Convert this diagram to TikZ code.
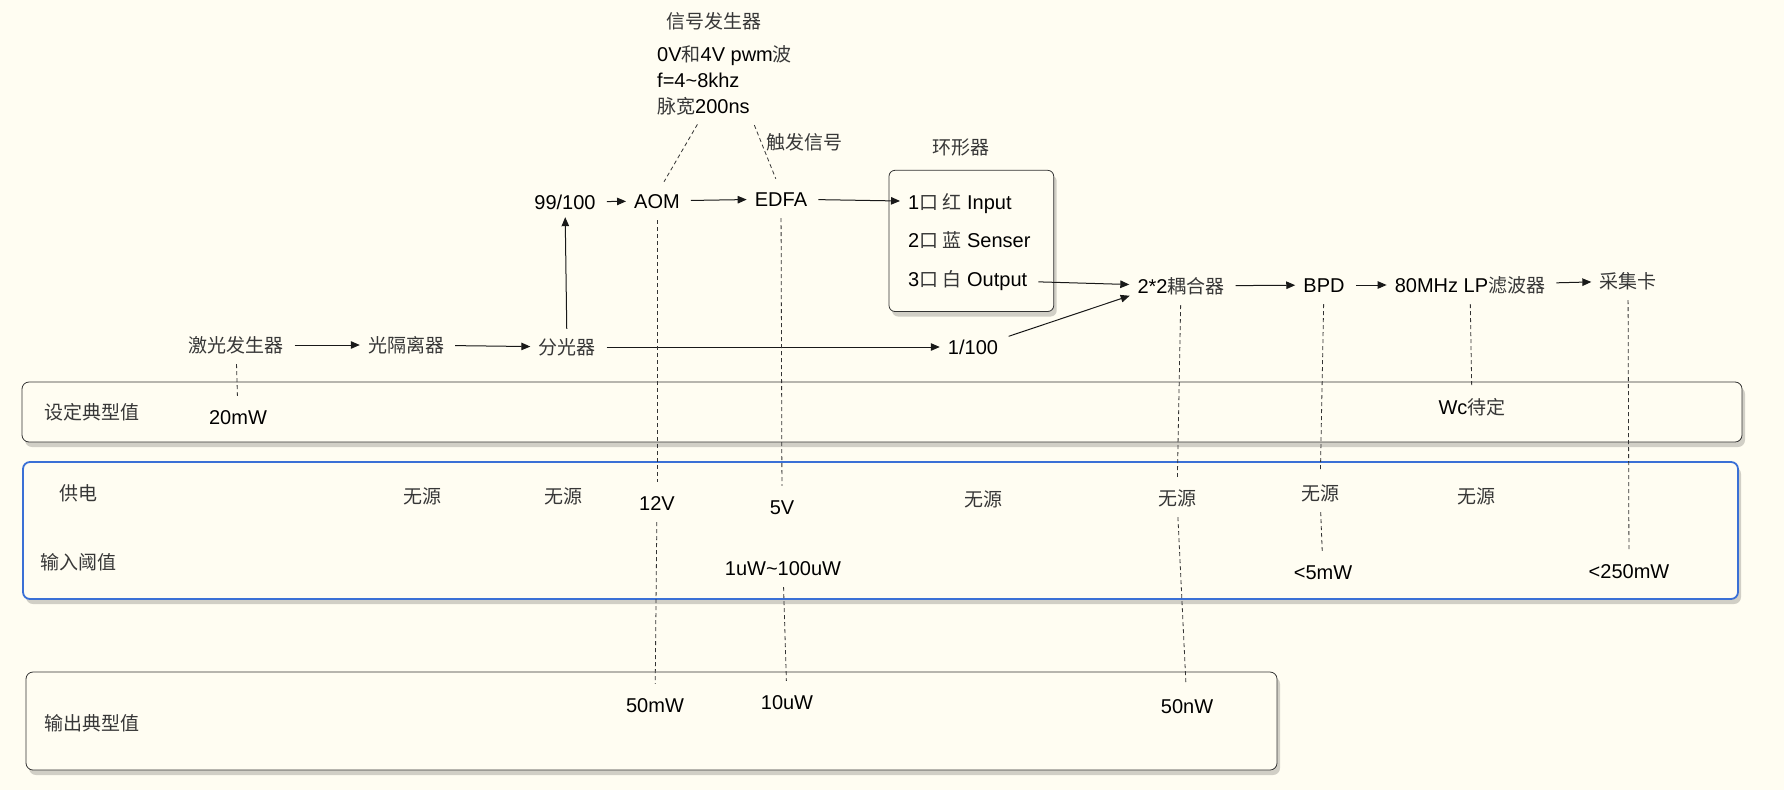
\documentclass[tikz,border=0pt]{standalone}
\usepackage{fontspec}
\setmainfont{Liberation Sans}
\newfontfamily\zhfont[Scale=0.95]{Noto Sans CJK SC}
\usepackage{tikz}
\usetikzlibrary{arrows.meta,positioning,fit,backgrounds,shadows}
\usepackage{xcolor}
\definecolor{bgcream}{RGB}{255,253,242}
\definecolor{zhgray}{RGB}{55,55,55}
\definecolor{panelblue}{RGB}{58,112,214}
\newcommand{\zh}[1]{{\zhfont\color{zhgray}#1}}

\begin{document}
\begin{tikzpicture}[x=1pt, y=-1pt, >={Triangle[length=9pt,width=7.5pt]},
  node distance=24.5pt and 0pt,
  dev/.style={inner sep=0pt, text height=14pt, text depth=0pt, font=\fontsize{20pt}{24pt}\selectfont},
  zhl/.style={dev, font=\fontsize{20pt}{24pt}\selectfont\zhfont, text=zhgray},
  arr/.style={->, line width=1pt, draw=black!90, shorten <=11pt, shorten >=8pt},
  dl/.style={dash pattern=on 4pt off 3pt, line width=0.8pt, draw=black!80, shorten <=12pt, shorten >=14pt},
  shd/.style={drop shadow={shadow xshift=3pt, shadow yshift=-5pt, opacity=0.18, fill=black}},
  panel/.style={rounded corners=7pt, fill=bgcream, line width=0.8pt, draw=black!80, shd}]
\useasboundingbox (0,0) rectangle (1784,790);
\begin{scope}[on background layer]
  \fill[bgcream] (0,0) rectangle (1784,790);
\end{scope}

% value panels
\path[panel] (22,382) rectangle (1742,442);
\path[panel, draw=panelblue, line width=1.8pt] (23,462) rectangle (1738,599);
\path[panel] (26,672) rectangle (1277,770);

% optical chain
\node[zhl] (laser) at (236,345) {激光发生器};
\node[zhl] (iso) at (406,345) {光隔离器};
\node[zhl] (split) at (567,347) {分光器};
\node[dev] (one) at (973,347) {1/100};
\node[dev] (r99) at (565,202) {99/100};
\node[dev] (aom) at (657,201) {AOM};
\node[dev] (edfa) at (781,199) {EDFA};
\node[dev, anchor=west] (p1) at (908,202) {1\zh{口 红} Input};
\node[dev, below right=of p1.south west] (p2) {2\zh{口 蓝} Senser};
\node[dev, below right=of p2.south west] (p3) {3\zh{口 白} Output};
\begin{scope}[on background layer]
  \node[fit=(p1)(p2)(p3), inner xsep=21pt, inner ysep=24.5pt, xshift=2pt, rounded corners=6pt,
    fill=bgcream, draw=black!80, line width=0.8pt, shd] (circ) {};
\end{scope}
\node[zhl] (circlbl) at (961,147) {环形器};
\node[dev] (coupler) at (1181,286) {2*2\zh{耦合器}};
\node[dev] (bpd) at (1324,285) {BPD};
\node[dev] (lp) at (1470,285) {80MHz LP\zh{滤波器}};
\node[zhl] (daq) at (1628,281) {采集卡};

% signal generator
\node[zhl] (siggen) at (714,21) {信号发生器};
\node[dev, anchor=west] (pwm1) at (657,54) {0V\zh{和}4V pwm\zh{波}};
\node[dev, below right=12pt and 0pt of pwm1.south west] (pwm2) {f=4\textasciitilde8khz};
\node[dev, below right=12pt and 0pt of pwm2.south west] (pwm3) {\zh{脉宽}200ns};
\node[zhl] (trig) at (804,142) {触发信号};

% panel texts
\node[zhl] (setlbl) at (92,412) {设定典型值};
\node[dev] (p20) at (238,417) {20mW};
\node[dev] (wc) at (1472,407) {Wc\zh{待定}};
\node[zhl] (powlbl) at (78,493) {供电};
\node[zhl] (inlbl) at (78,562) {输入阈值};
\node[zhl] (outlbl) at (92,723) {输出典型值};
\node[zhl] (np1) at (422,496) {无源};
\node[zhl] (np2) at (563,496) {无源};
\node[zhl] (np3) at (983,499) {无源};
\node[zhl] (np4) at (1177,498) {无源};
\node[zhl] (np5) at (1320,493) {无源};
\node[zhl] (np6) at (1476,496) {无源};
\node[dev] (v12) at (657,503) {12V};
\node[dev] (v5) at (782,507) {5V};
\node[dev] (inedfa) at (783,568) {1uW\textasciitilde100uW};
\node[dev] (inbpd) at (1323,572) {<5mW};
\node[dev] (indaq) at (1629,571) {<250mW};
\node[dev] (o50m) at (655,705) {50mW};
\node[dev] (o10u) at (787,702) {10uW};
\node[dev] (o50n) at (1187,706) {50nW};

% light path
\draw[arr] (laser) -- (iso);
\draw[arr] (iso) -- (split);
\draw[arr] (split) -- (one);
\draw[arr] (split) -- (r99);
\draw[arr] (r99) -- (aom);
\draw[arr] (aom) -- (edfa);
\draw[arr] (edfa) -- (p1);
\draw[arr] (p3) -- (coupler);
\draw[arr] (one.north east) -- (coupler.south west);
\draw[arr] (coupler) -- (bpd);
\draw[arr] (bpd) -- (lp);
\draw[arr] (lp) -- (daq);

% value leaders
\draw[dl] (pwm3.south) -- (aom.north);
\draw[dl] (pwm3.south east) -- (edfa.north);
\draw[dl] (laser) -- (p20);
\draw[dl] (aom) -- (v12);
\draw[dl] (v12) -- (o50m);
\draw[dl] (edfa) -- (v5);
\draw[dl] (inedfa) -- (o10u);
\draw[dl] (coupler) -- (np4);
\draw[dl] (np4) -- (o50n);
\draw[dl] (bpd) -- (np5);
\draw[dl] (np5) -- (inbpd);
\draw[dl] (lp) -- (wc);
\draw[dl] (daq) -- (indaq);
\end{tikzpicture}
\end{document}
